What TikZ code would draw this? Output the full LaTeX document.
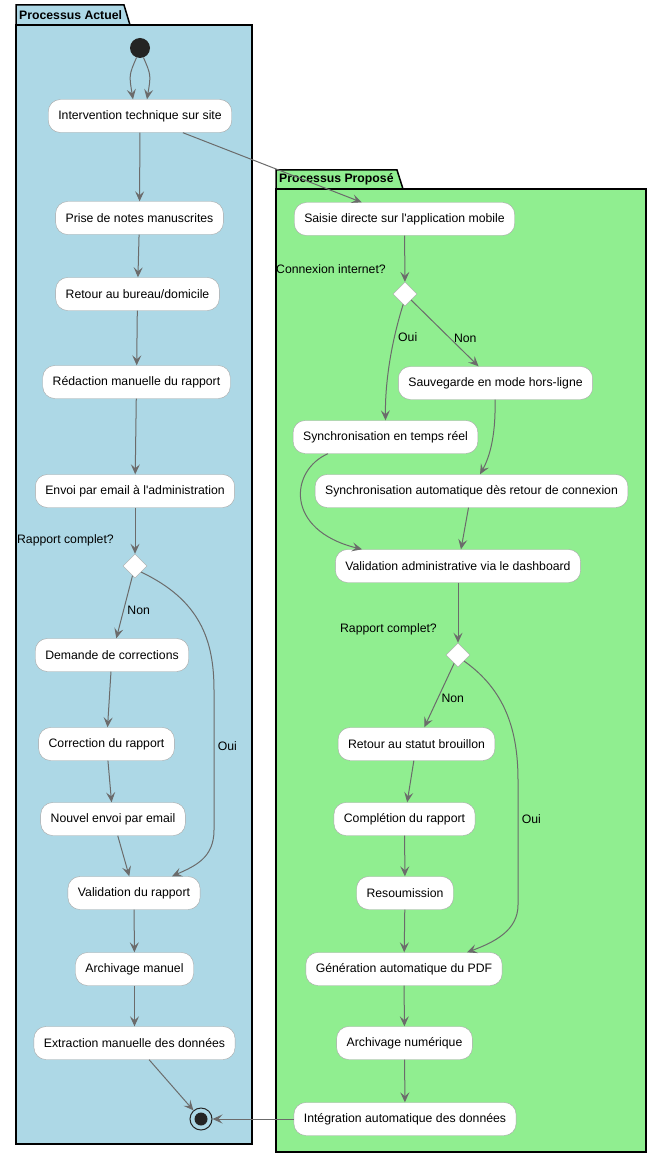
\documentclass[tikz,border=0pt]{standalone}
\usepackage{fontspec}
\setmainfont{Liberation Sans}
\usetikzlibrary{arrows.meta,shapes.geometric}
\definecolor{pkgblue}{HTML}{ADD8E6}
\definecolor{pkggreen}{HTML}{90EE90}
\definecolor{flowgray}{HTML}{6B6B6B}
\definecolor{boxgray}{HTML}{A6A6A6}

\begin{document}
\begin{tikzpicture}[x=1pt,y=-1pt,font=\fontsize{12.25}{14}\selectfont,
    act/.style={draw=boxgray,fill=white,rounded corners=12pt,minimum height=33pt,inner xsep=10pt},
    decision/.style={draw=boxgray,fill=white,shape=diamond,minimum size=24pt,inner sep=0pt},
    flow/.style={draw=flowgray,line width=1pt,-{Stealth[length=10pt,width=9pt,inset=4pt]}},
    pkg/.style={draw=black,line width=1.5pt},
    pkgtitle/.style={anchor=west,inner sep=2pt,font=\fontsize{12.25}{14}\selectfont\bfseries}]
    \useasboundingbox (0,0) rectangle (662,1158);
    % packages
    \draw[pkg,fill=pkgblue] (16,25) -- (16,5) -- (124,5) -- (130,25) -- cycle;
    \draw[pkg,fill=pkgblue] (16,25) rectangle (252,1144);
    \draw (17,15) node (ta) [pkgtitle] {Processus Actuel};
    \draw[pkg,fill=pkggreen] (276,189) -- (276,170) -- (397,170) -- (403,189) -- cycle;
    \draw[pkg,fill=pkggreen] (276,189) rectangle (646,1152);
    \draw (277,179) node (tp) [pkgtitle] {Processus Proposé};

    % processus actuel
    \draw (140,48) node (start) [circle,fill=black!86,minimum size=20pt,inner sep=0pt] {};
    \draw (140,116) node (interv) [act] {Intervention technique sur site};
    \draw (139.5,218) node (notes) [act] {Prise de notes manuscrites};
    \draw (137.5,294) node (retour) [act] {Retour au bureau/domicile};
    \draw (136.5,382) node (redac) [act] {Rédaction manuelle du rapport};
    \draw (135,491) node (envoi) [act] {Envoi par email à l\textquotesingle administration};
    \draw (135,566) node (dec1) [decision] {};
    \draw ([xshift=-21pt,yshift=26pt]dec1.center) node (q1) [anchor=east,inner sep=0pt] {Rapport complet?};
    \draw (112,655) node (demande) [act] {Demande de corrections};
    \draw (106.5,744) node (correc) [act] {Correction du rapport};
    \draw (113,819) node (nouvel) [act] {Nouvel envoi par email};
    \draw (134,893) node (valid) [act] {Validation du rapport};
    \draw (134.5,969) node (archman) [act] {Archivage manuel};
    \draw (134.5,1043) node (extract) [act] {Extraction manuelle des données};
    \draw (201,1119) node (stop) [circle,draw=black!86,line width=1pt,minimum size=22pt,inner sep=0pt] {};
    \fill[black!86] (stop.center) circle (6.5);

    % processus propose
    \draw (404.5,219) node (saisie) [act] {Saisie directe sur l\textquotesingle application mobile};
    \draw (405,294) node (dec2) [decision] {};
    \draw ([xshift=-19pt,yshift=25pt]dec2.center) node (q2) [anchor=east,inner sep=0pt] {Connexion internet?};
    \draw (495.5,383) node (sauve) [act] {Sauvegarde en mode hors-ligne};
    \draw (385.5,437) node (syncrt) [act] {Synchronisation en temps réel};
    \draw (471.5,491) node (syncauto) [act] {Synchronisation automatique dès retour de connexion};
    \draw (458,566) node (validadm) [act] {Validation administrative via le dashboard};
    \draw (458,655) node (dec3) [decision] {};
    \draw ([xshift=-21pt,yshift=26pt]dec3.center) node (q3) [anchor=east,inner sep=0pt] {Rapport complet?};
    \draw (416.5,744) node (brouil) [act] {Retour au statut brouillon};
    \draw (404.5,819) node (complet) [act] {Complétion du rapport};
    \draw (405,893) node (resoum) [act] {Resoumission};
    \draw (404,969) node (genpdf) [act] {Génération automatique du PDF};
    \draw (404.5,1043) node (archnum) [act] {Archivage numérique};
    \draw (405,1119) node (integ) [act] {Intégration automatique des données};

    % connecteurs actuel
    \draw[flow] (start.-110) .. controls (129,75) .. ([xshift=-7pt]interv.north);
    \draw[flow] (start.-70) .. controls (151,75) .. ([xshift=7pt]interv.north);
    \draw[flow] (interv) -- (notes);
    \draw[flow] (notes) -- (retour);
    \draw[flow] (retour) -- (redac);
    \draw[flow] (redac) -- (envoi);
    \draw[flow] (envoi) -- (dec1);
    \draw[flow] (dec1) -- node [pos=0.55,right] {Non} (demande);
    \draw[flow] (demande) -- (correc);
    \draw[flow] (correc) -- (nouvel);
    \draw[flow] (nouvel) -- (valid);
    \draw[flow] (dec1.south east) .. controls (200,600) and (214,640) .. (214,690)
        -- node [pos=0.4,right] {Oui} (214,830) .. controls (214,858) and (195,866) .. ([xshift=38pt]valid.north);
    \draw[flow] (valid) -- (archman);
    \draw[flow] (archman) -- (extract);
    \draw[flow] (extract) -- (stop);

    % connecteurs propose
    \draw[flow] (interv) -- (saisie);
    \draw[flow] (saisie) -- (dec2);
    \draw[flow] (dec2.-100) .. controls (392,340) and (385,380) .. node [pos=0.3,right] {Oui} (syncrt.north);
    \draw[flow] (dec2) -- node [pos=0.58,right] {Non} (sauve);
    \draw[flow] ([xshift=-0.5pt]sauve.south) .. controls (496,440) and (488,460) .. ([xshift=8.5pt]syncauto.north);
    \draw[flow] ([xshift=-57.5pt]syncrt.south) .. controls (290,470) and (284,530) .. ([xshift=-96pt]validadm.north);
    \draw[flow] (syncauto) -- (validadm);
    \draw[flow] (validadm) -- (dec3);
    \draw[flow] (dec3) -- node [pos=0.55,right] {Non} (brouil);
    \draw[flow] (dec3.south east) .. controls (505,690) and (518,730) .. (518,780)
        -- node [pos=0.31,right] {Oui} (518,905) .. controls (518,930) and (495,942) .. ([xshift=63pt]genpdf.north);
    \draw[flow] (brouil) -- (complet);
    \draw[flow] (complet) -- (resoum);
    \draw[flow] (resoum) -- (genpdf);
    \draw[flow] (genpdf) -- (archnum);
    \draw[flow] (archnum) -- (integ);
    \draw[flow] (integ) -- (stop);
\end{tikzpicture}
\end{document}
